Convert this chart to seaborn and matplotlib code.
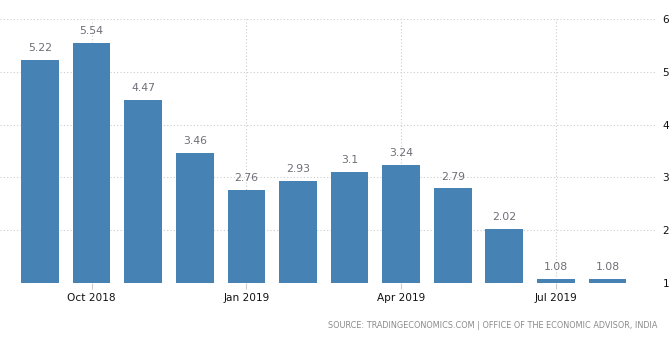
import matplotlib
matplotlib.use("Agg")
import matplotlib.pyplot as plt
import seaborn as sns
import pandas as pd

months = ["Sep 2018", "Oct 2018", "Nov 2018", "Dec 2018", "Jan 2019", "Feb 2019",
          "Mar 2019", "Apr 2019", "May 2019", "Jun 2019", "Jul 2019", "Aug 2019"]
values = [5.22, 5.54, 4.47, 3.46, 2.76, 2.93, 3.1, 3.24, 2.79, 2.02, 1.08, 1.08]
value_labels = ["5.22", "5.54", "4.47", "3.46", "2.76", "2.93", "3.1", "3.24", "2.79", "2.02", "1.08", "1.08"]
shown_ticks = ["Oct 2018", "Jan 2019", "Apr 2019", "Jul 2019"]
y_ticks = [1, 2, 3, 4, 5, 6]
source = "SOURCE: TRADINGECONOMICS.COM | OFFICE OF THE ECONOMIC ADVISOR, INDIA"

sns.set_theme(style="white")
plt.rcParams["font.family"] = ["DejaVu Sans"]

df = pd.DataFrame({"month": months, "value": values})

W, H = 672, 340
fig = plt.figure(figsize=(W / 100, H / 100), dpi=100)
left, right, top, bottom = 0, 657, 19, 283
ax = fig.add_axes([left / W, 1 - bottom / H, (right - left) / W, (bottom - top) / H])

# bars rise from the baseline of 1, so shift the bottom
sns.barplot(data=df, x="month", y=[v - 1 for v in values], ax=ax,
            color="#4682b4", saturation=1, width=0.73, bottom=1, linewidth=0)

ax.set_ylim(1, 6)
ax.set_xlim(-0.775, 11.96)

for i, (v, lab) in enumerate(zip(values, value_labels)):
    ax.text(i, v + 0.13, lab, ha="center", va="bottom", fontsize=7.8,
            color="#6e6e78", clip_on=False)

# grid
for y in y_ticks:
    ax.axhline(y, color="#cccccc", lw=0.8, ls=(0, (1, 2)), zorder=0)
tick_pos = [months.index(m) for m in shown_ticks]
for x in tick_pos:
    ax.axvline(x, color="#cccccc", lw=0.8, ls=(0, (1, 2)), zorder=0)

ax.set_xticks(tick_pos)
ax.set_xticklabels(shown_ticks)
ax.yaxis.tick_right()
ax.set_yticks(y_ticks)
ax.set_yticklabels([str(t) for t in y_ticks])
ax.tick_params(axis="x", length=4, width=0.8, color="#cccccc", labelsize=7.6,
               labelcolor="#111111", pad=3, bottom=True)
ax.tick_params(axis="y", length=0, labelsize=7.6, labelcolor="#111111", pad=4)
for s in ax.spines.values():
    s.set_visible(False)
ax.set_xlabel("")
ax.set_ylabel("")

fig.text(657 / W, 1 - 325 / H, source, ha="right", va="center", fontsize=5.85,
         color="#8a8a8a")

fig.savefig("out.png", dpi=100)
